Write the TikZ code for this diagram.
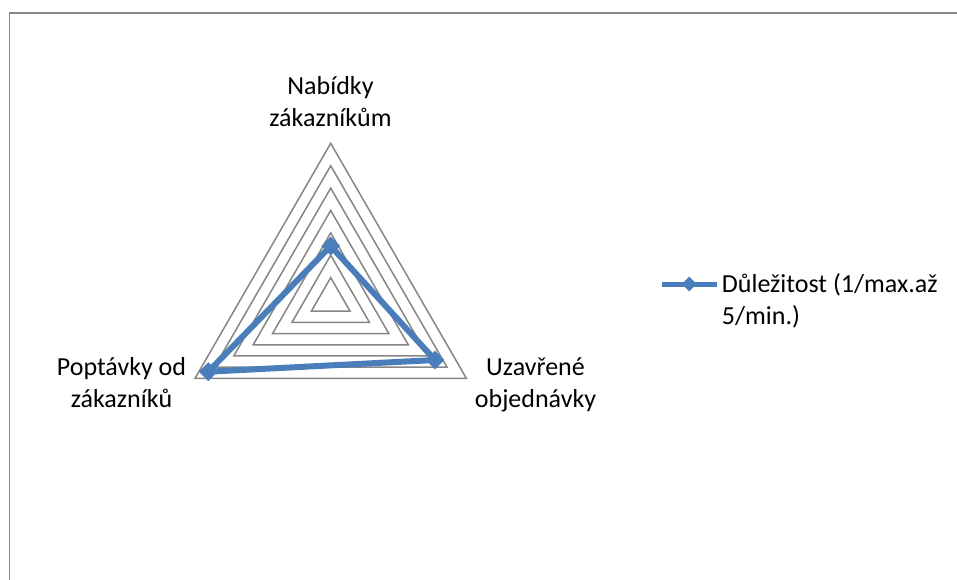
\documentclass[tikz,border=0pt]{standalone}
\usepackage{fontspec}
\setmainfont{Carlito}
\usetikzlibrary{shapes.geometric}
\definecolor{gridgray}{HTML}{868686}
\definecolor{seriesblue}{HTML}{4A7EBB}
\begin{document}
\begin{tikzpicture}[x=1pt,y=-1pt,
  frame/.style={draw=gridgray,line width=1.4pt},
  ring/.style={draw=gridgray,line width=1.5pt,line join=miter},
  series/.style={draw=seriesblue,line width=6pt,line join=round},
  marker/.style={diamond,fill=seriesblue,inner sep=0pt,minimum width=#1,minimum height=#1},
  axislabel/.style={align=center,inner sep=0pt,anchor=base,font=\fontsize{26}{32}\selectfont},
  legendtext/.style={align=left,inner sep=0pt,anchor=base west,font=\fontsize{26}{32}\selectfont}]
\useasboundingbox (0,0) rectangle (957,580);
% chart area border
\draw[frame] (958,13) -- (9.5,13) -- (9.5,581);
% radar grid: seven concentric triangles
\begin{scope}[shift={(330.7,300)}]
  \foreach \k in {1,...,7}{
    \pgfmathsetmacro{\r}{22.38*\k}
    \draw[ring] (-90:\r) -- (30:\r) -- (150:\r) -- cycle;
  }
\end{scope}
% axis labels (anchored at the baseline of the last line)
\node[axislabel] (lab1) at (330.5,126.5) {Nabídky\\zákazníkům};
\node[axislabel] (lab2) at (535.5,407) {Uzavřené\\objednávky};
\node[axislabel] (lab3) at (121.5,407) {Poptávky od\\zákazníků};
% data series
\coordinate (p1) at (330.7,246);
\coordinate (p2) at (435,360);
\coordinate (p3) at (208.3,371.7);
\draw[series] (p1) -- (p2) -- (p3) -- cycle;
\node[marker=19pt] (m1) at (p1) {};
\node[marker=19pt] (m2) at (p2) {};
\node[marker=19pt] (m3) at (p3) {};
% legend
\coordinate (l1) at (661.7,284);
\coordinate (l2) at (717.3,284);
\draw[draw=seriesblue,line width=5pt] (l1) -- (l2);
\node[marker=15pt] (lm) at (689.3,284) {};
\node[legendtext] (leg) at (721.7,324) {Důležitost (1/max.až\\5/min.)};
\end{tikzpicture}
\end{document}
